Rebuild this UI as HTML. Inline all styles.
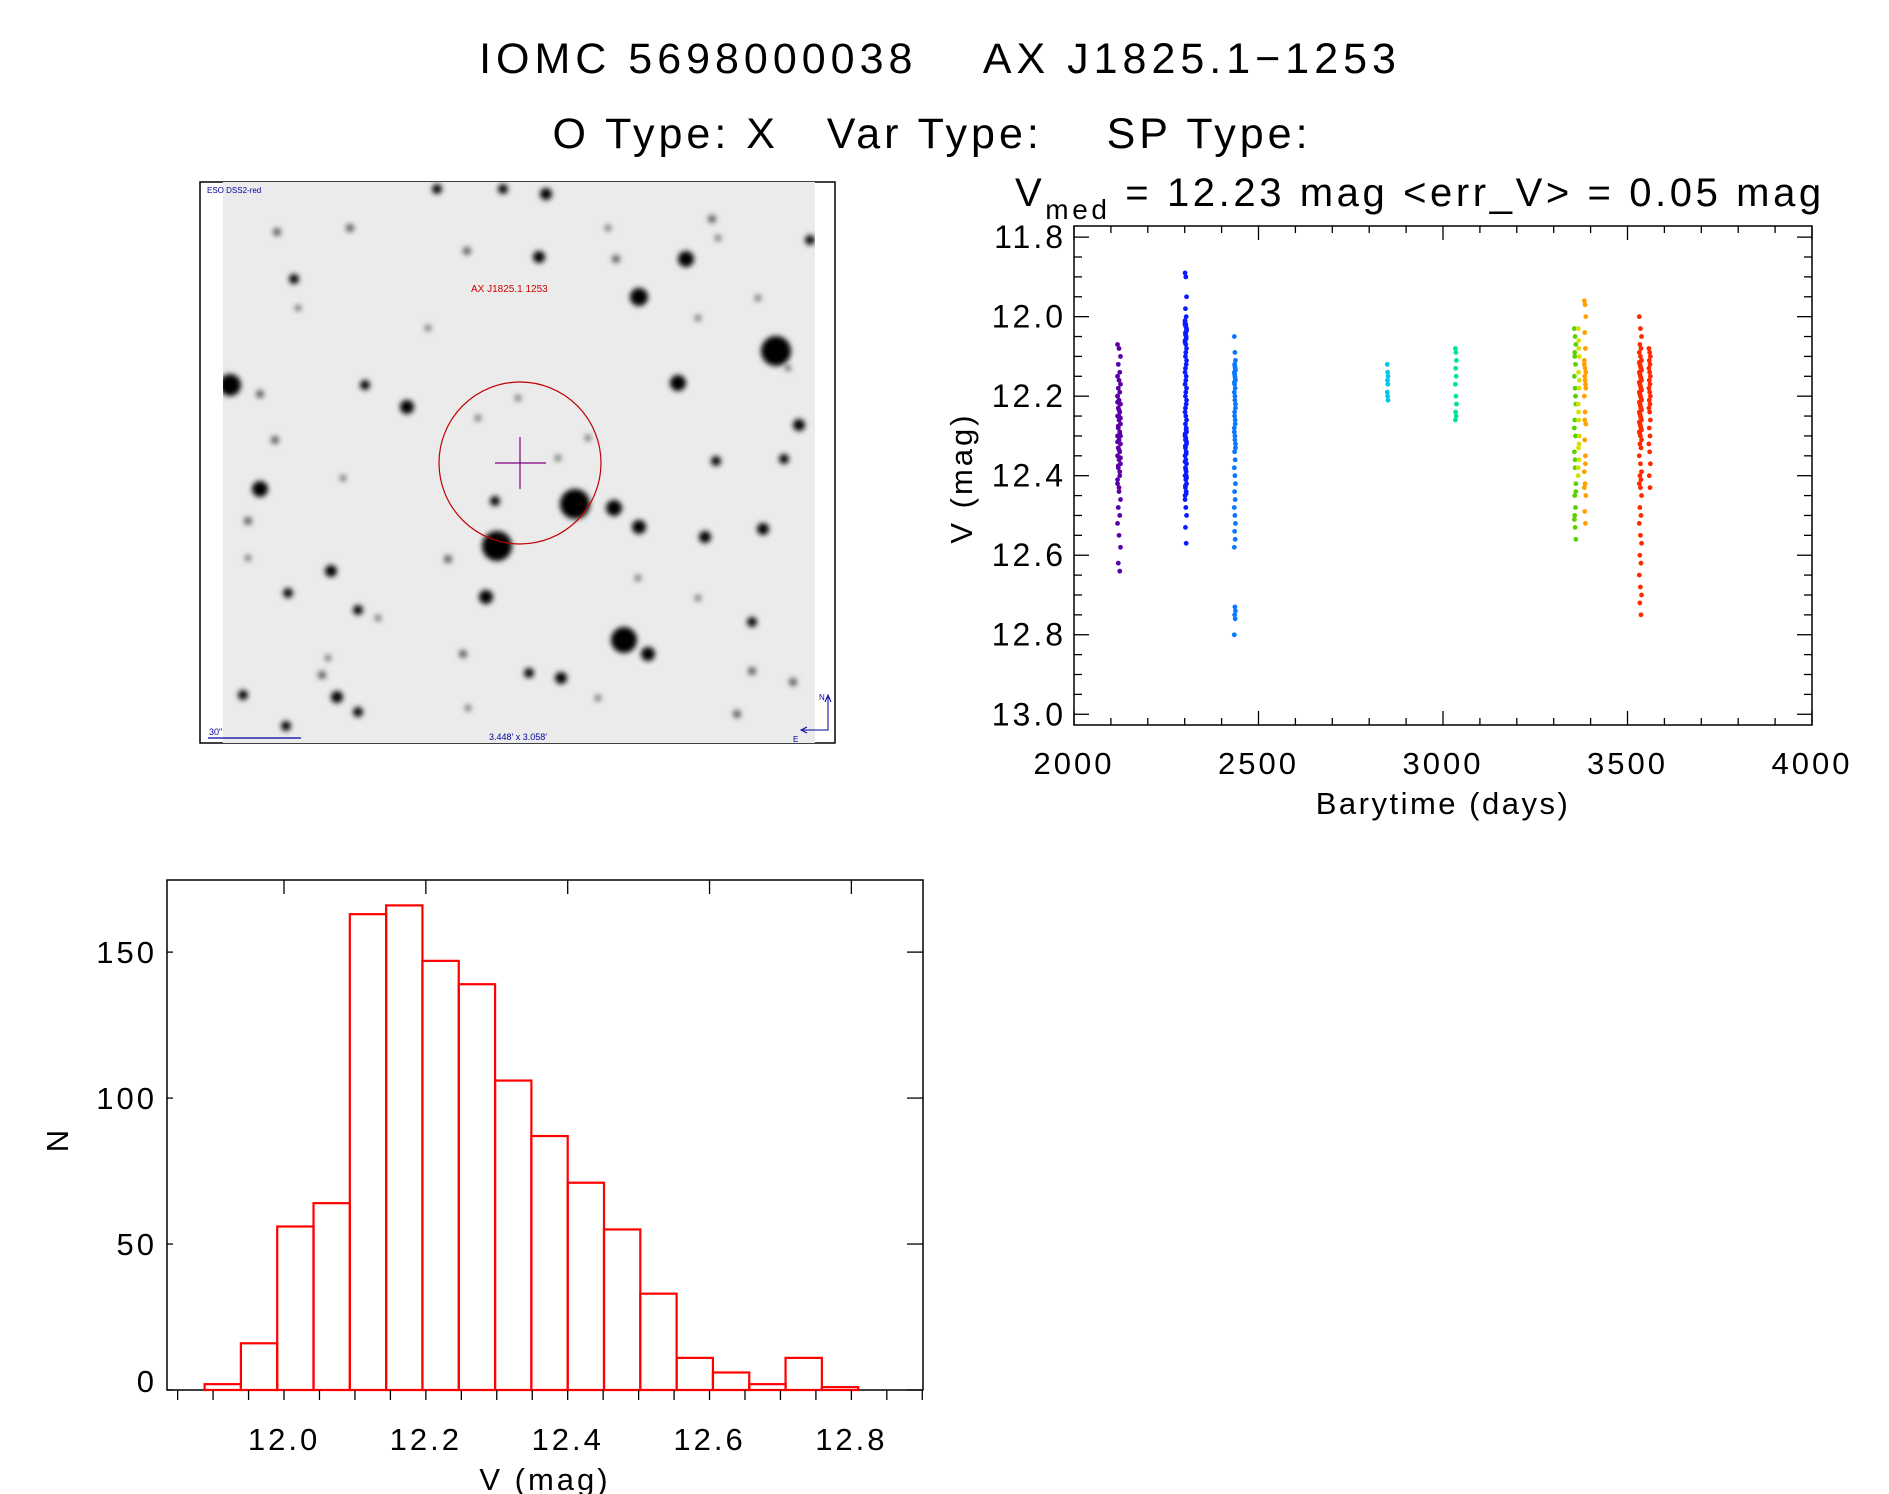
<!DOCTYPE html>
<html><head><meta charset="utf-8"><style>
html,body{margin:0;padding:0;background:#fff;}
svg{display:block;font-family:"Liberation Sans",sans-serif;}
</style></head><body>
<svg id="root" width="1889" height="1494" viewBox="0 0 1889 1494" xmlns="http://www.w3.org/2000/svg">
<defs>
<filter id="blur" x="-50%" y="-50%" width="200%" height="200%"><feGaussianBlur stdDeviation="2.6"/></filter>
<clipPath id="imgclip"><rect x="223" y="182" width="592" height="561"/></clipPath>
</defs>
<g font-size="43" fill="#000" text-anchor="middle">
<text x="940" y="73" letter-spacing="5" xml:space="preserve">IOMC 5698000038    AX J1825.1−1253</text>
<text x="932" y="148" letter-spacing="4" xml:space="preserve">O Type: X   Var Type:    SP Type:</text>
</g>
<text x="1015" y="206" font-size="40" letter-spacing="3.6" xml:space="preserve">V<tspan font-size="28" dy="13">med</tspan><tspan dy="-13"> = 12.23 mag &lt;err_V&gt; = 0.05 mag</tspan></text>

<g id="sky">
<rect x="200" y="182" width="635" height="561" fill="#fff" stroke="#000" stroke-width="1.5"/>
<rect x="223" y="182" width="592" height="561" fill="#ebebeb"/>
<g id="stars" clip-path="url(#imgclip)" filter="url(#blur)"></g>
<circle cx="520" cy="463" r="81" fill="none" stroke="#c00000" stroke-width="1.2"/>
<line x1="495" y1="463" x2="546" y2="463" stroke="#800080" stroke-width="1.2"/>
<line x1="520" y1="437" x2="520" y2="489" stroke="#800080" stroke-width="1.2"/>
<text x="471" y="292" font-size="10" fill="#d00000">AX J1825.1 1253</text>
<text x="207" y="193" font-size="8" fill="#0000a0">ESO DSS2-red</text>
<line x1="208" y1="738" x2="301" y2="738" stroke="#0000a0" stroke-width="1.2"/>
<text x="209" y="735" font-size="9" fill="#0000a0">30"</text>
<text x="518" y="740" font-size="9" fill="#0000a0" text-anchor="middle">3.448' x 3.058'</text>
<path d="M828 697 L828 730 L803 730 M825 702 L828 695 L831 702 M807 727 L801 730 L807 733" fill="none" stroke="#0000a0" stroke-width="1"/>
<text x="819" y="700" font-size="8" fill="#0000a0">N</text>
<text x="793" y="742" font-size="8" fill="#0000a0">E</text>
</g>

<g id="lc"></g>
<g id="hist"></g>
</svg>
<script>
// ---------- sky image stars (x, y, radius) ----------
const starX=[776,575,497,624,639,230,686,678,260,407,614,639,486,648,561,546,503,437,799,763,705,784,716,495,539,294,331,288,358,337,358,243,286,529,463,322,752,752,712,810,350,277,467,616,365,260,275,248,737,793,448,698,758,588,428,298,328,378,598,638,698,558,478,518,343,248,788,608,468,718];
const starY=[351,504,546,640,297,385,259,383,489,407,508,527,597,654,678,194,189,189,425,529,537,459,461,501,257,279,571,593,610,697,712,695,726,673,654,675,622,671,219,240,228,232,251,259,385,394,440,521,714,682,559,318,298,438,328,308,658,618,698,578,598,458,418,398,478,558,368,228,708,238];
const starR=[15,15,15,13,9,11,8,8,8,7,8,7,7,7,6,6,5,5,6,6,6,5,5,5,6,5,6,5,5,6,5,5,5,5,4,4,5,4,4,5,4,4,4,4,5,4,4,4,4,4,4,3,3,3,3,3,3,3,3,3,3,3,3,3,3,3,3,3,3,3];
const NS='http://www.w3.org/2000/svg';
const starG=document.getElementById('stars');
for(let i=0;i<starX.length;i++){
  const c=document.createElementNS(NS,'circle');
  c.setAttribute('cx',starX[i]);c.setAttribute('cy',starY[i]);c.setAttribute('r',starR[i]);
  c.setAttribute('fill', starR[i]>=5?'#000':'#555');
  
  
  starG.appendChild(c);
}

// ---------- light curve data ----------
const lcXTicks=[2000,2500,3000,3500,4000];
const lcYTicks=[11.8,12.0,12.2,12.4,12.6,12.8,13.0];
const lcColors=['#5b00a8','#0a1cff','#0a78ff','#00c8e6','#00e68c','#5ad200','#d8e000','#ffa000','#ff2a00','#ff2a00'];
const lcTimes=[2122,2303,2436,2850,3035,3358,3368,3385,3535,3560];
const lcSpread=[8,4,3,2,3,4,3,4,6,4];
const mags0=[12.07,12.08,12.10,12.12,12.14,12.15,12.16,12.17,12.18,12.19,12.20,12.21,12.22,12.23,12.24,12.25,12.26,12.27,12.28,12.29,12.30,12.31,12.32,12.33,12.34,12.35,12.36,12.37,12.38,12.40,12.42,12.44,12.46,12.48,12.50,12.52,12.55,12.58,12.62,12.64,12.20,12.25,12.30,12.28,12.22,12.215,12.235,12.255,12.275,12.295,12.315,12.335,12.355,12.375,12.39,12.41,12.43];
const mags1=[11.89,11.90,11.95,11.98,12.00,12.01,12.02,12.03,12.04,12.05,12.06,12.07,12.08,12.10,12.12,12.14,12.16,12.18,12.20,12.22,12.24,12.25,12.26,12.27,12.28,12.30,12.31,12.32,12.33,12.34,12.35,12.36,12.37,12.38,12.39,12.40,12.41,12.42,12.43,12.44,12.46,12.48,12.50,12.53,12.57,12.02,12.04,12.29,12.31,12.40,12.015,12.025,12.035,12.045,12.055,12.065,12.09,12.11,12.13,12.15,12.17,12.19,12.21,12.23,12.285,12.295,12.305,12.315,12.325,12.345,12.365,12.385,12.405,12.425,12.445,12.45];
const mags2=[12.05,12.09,12.11,12.12,12.13,12.14,12.15,12.16,12.17,12.18,12.19,12.20,12.22,12.24,12.26,12.28,12.30,12.32,12.34,12.36,12.38,12.40,12.42,12.44,12.46,12.48,12.50,12.52,12.54,12.56,12.58,12.73,12.74,12.75,12.76,12.80,12.125,12.135,12.145,12.155,12.165,12.21,12.23,12.25,12.27,12.29,12.31,12.33];
const mags3=[12.12,12.14,12.15,12.16,12.17,12.19,12.20,12.21];
const mags4=[12.08,12.09,12.11,12.13,12.15,12.17,12.20,12.22,12.24,12.25,12.26];
const mags5=[12.03,12.05,12.07,12.09,12.12,12.15,12.18,12.22,12.26,12.30,12.34,12.38,12.42,12.45,12.48,12.51,12.53,12.56,12.10,12.20,12.28,12.36,12.44,12.50];
const mags6=[12.03,12.06,12.10,12.14,12.18,12.22,12.26,12.30,12.33,12.36,12.40,12.08,12.16,12.24,12.32,12.38];
const mags7=[11.96,11.97,12.00,12.04,12.08,12.11,12.13,12.14,12.15,12.17,12.20,12.24,12.27,12.31,12.35,12.39,12.42,12.45,12.49,12.52,12.12,12.16,12.18,12.26,12.37,12.43];
const mags8=[12.00,12.03,12.05,12.07,12.08,12.09,12.10,12.11,12.12,12.13,12.14,12.15,12.16,12.17,12.18,12.19,12.20,12.21,12.22,12.23,12.24,12.25,12.26,12.27,12.28,12.29,12.30,12.31,12.32,12.33,12.35,12.37,12.39,12.40,12.41,12.42,12.43,12.45,12.48,12.50,12.52,12.55,12.57,12.60,12.62,12.65,12.68,12.70,12.72,12.75,12.115,12.125,12.135,12.145,12.155,12.165,12.175,12.185,12.195,12.205,12.215,12.225,12.235,12.245,12.255,12.265,12.275,12.285,12.295];
const mags9=[12.08,12.09,12.10,12.11,12.12,12.13,12.14,12.15,12.16,12.17,12.18,12.19,12.20,12.21,12.22,12.23,12.24,12.26,12.28,12.30,12.32,12.34,12.37,12.40,12.43];
const lcMags=[mags0,mags1,mags2,mags3,mags4,mags5,mags6,mags7,mags8,mags9];

const LC={l:1074,r:1812,t:226,b:725,x0:2000,x1:4000,y0:11.772,y1:13.027};
const lx=v=>LC.l+(v-LC.x0)/(LC.x1-LC.x0)*(LC.r-LC.l);
const ly=v=>LC.t+(v-LC.y0)/(LC.y1-LC.y0)*(LC.b-LC.t);
const lc=document.getElementById('lc');
function mk(tag,attrs,parent){const e=document.createElementNS(NS,tag);for(const k in attrs)e.setAttribute(k,attrs[k]);parent.appendChild(e);return e;}
const frame=mk('rect',{x:LC.l,y:LC.t,width:LC.r-LC.l,height:LC.b-LC.t,fill:'none',stroke:'#000','stroke-width':1.5},lc);


for(let v=2000;v<=4000;v+=100){
  const major=(v%500===0);const L=major?14:7;const x=lx(v);
  const t1=mk('line',{x1:x,y1:LC.b,x2:x,y2:LC.b-L,stroke:'#000','stroke-width':1.3},lc);
  
  
  const t2=mk('line',{x1:x,y1:LC.t,x2:x,y2:LC.t+L,stroke:'#000','stroke-width':1.3},lc);
  
  
}
lcXTicks.forEach(v=>{
  const t=mk('text',{x:lx(v),y:774,'font-size':31,'letter-spacing':3,'text-anchor':'middle'},lc);t.textContent=v;
  
  
});
for(let k=0;k<=24;k++){
  const v=11.8+k*0.05;const major=(k%4===0);const L=major?15:8;const y=ly(v);
  const t1=mk('line',{x1:LC.l,y1:y,x2:LC.l+L,y2:y,stroke:'#000','stroke-width':1.3},lc);
  
  
  const t2=mk('line',{x1:LC.r,y1:y,x2:LC.r-L,y2:y,stroke:'#000','stroke-width':1.3},lc);
  
  
}
lcYTicks.forEach(v=>{
  const t=mk('text',{x:1066,y:ly(v)+11,'font-size':32,'letter-spacing':3,'text-anchor':'end'},lc);t.textContent=v.toFixed(1);
  
  
});
const xt=mk('text',{x:1443,y:814,'font-size':31,'letter-spacing':2.5,'text-anchor':'middle'},lc);xt.textContent='Barytime (days)';


const yt=mk('text',{x:972,y:478,'font-size':31,'letter-spacing':3,'text-anchor':'middle',transform:'rotate(-90 972 478)'},lc);yt.textContent='V (mag)';


lcMags.forEach((arr,ci)=>{
  arr.forEach((m,j)=>{
    const off=((j*7)%5-2)/2*lcSpread[ci]/2;
    const c=mk('circle',{cx:lx(lcTimes[ci]+off),cy:ly(m),r:2.4,fill:lcColors[ci]},lc);
    
    
  });
});

// ---------- histogram data ----------
const histStart=11.888;
const histWidth=0.0512;
const histCounts=[2,16,56,64,163,166,147,139,106,87,71,55,33,11,6,2,11,1];
const hXTicks=[12.0,12.2,12.4,12.6,12.8];
const hYTicks=[0,50,100,150];
const H={l:167,r:923,t:880,b:1390,x0:11.835,x1:12.901,y0:0,y1:174.7};
const hx=v=>H.l+(v-H.x0)/(H.x1-H.x0)*(H.r-H.l);
const hy=v=>H.b-(v-H.y0)/(H.y1-H.y0)*(H.b-H.t);
const hg=document.getElementById('hist');
const hf=mk('rect',{x:H.l,y:H.t,width:H.r-H.l,height:H.b-H.t,fill:'none',stroke:'#000','stroke-width':1.5},hg);


histCounts.forEach((n,i)=>{
  const a=histStart+i*histWidth;
  const r=mk('rect',{x:hx(a),y:hy(n),width:hx(a+histWidth)-hx(a),height:hy(0)-hy(n),fill:'none',stroke:'#ff0000','stroke-width':2.2},hg);
  
  
});
for(let k=0;k<=21;k++){
  const v=11.85+k*0.05;const x=hx(v);
  const t=mk('line',{x1:x,y1:H.b,x2:x,y2:H.b+10,stroke:'#000','stroke-width':1.3},hg);
  
  
}
hXTicks.forEach(v=>{
  const x=hx(v);
  const t=mk('line',{x1:x,y1:H.t,x2:x,y2:H.t+14,stroke:'#000','stroke-width':1.3},hg);
  
  
  const l=mk('text',{x:x,y:1450,'font-size':31,'letter-spacing':3,'text-anchor':'middle'},hg);l.textContent=v.toFixed(1);
  
  
});
hYTicks.forEach(v=>{
  const y=hy(v);
  const t=mk('line',{x1:H.r,y1:y,x2:H.r-16,y2:y,stroke:'#000','stroke-width':1.3},hg);
  
  
  const t2=mk('line',{x1:H.l,y1:y,x2:H.l+6,y2:y,stroke:'#000','stroke-width':1.3},hg);
  
  
  const l=mk('text',{x:157,y:y+(v===0?2:11),'font-size':31,'letter-spacing':3,'text-anchor':'end'},hg);l.textContent=v;
  
  
});
const hxt=mk('text',{x:545,y:1490,'font-size':31,'letter-spacing':3,'text-anchor':'middle'},hg);hxt.textContent='V (mag)';


const hyt=mk('text',{x:68,y:1141,'font-size':31,'text-anchor':'middle',transform:'rotate(-90 68 1141)'},hg);hyt.textContent='N';


</script>
</body></html>
